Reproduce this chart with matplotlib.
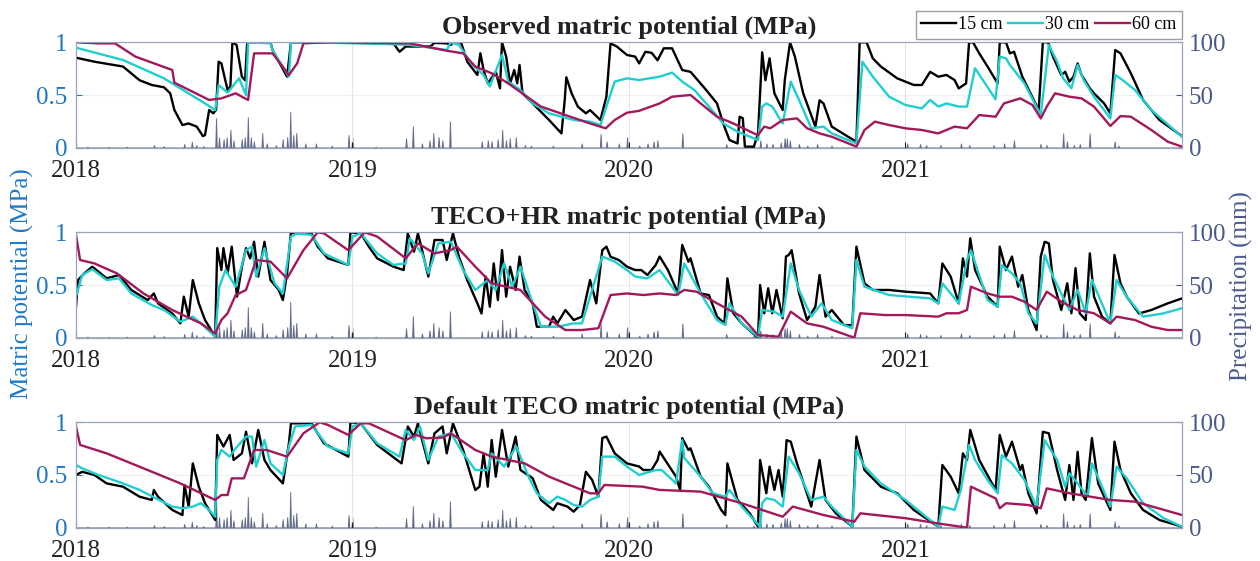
import numpy as np
import matplotlib.pyplot as plt

plt.rcParams['font.family'] = ['Liberation Serif', 'DejaVu Serif']

# time axis: months since Jan 2018
year_ticks = [0, 12, 24, 36]
year_labels = ['2018', '2019', '2020', '2021']

titles = ['Observed matric potential (MPa)',
          'TECO+HR matric potential (MPa)',
          'Default TECO matric potential (MPa)']
depths = ['15 cm', '30 cm', '60 cm']
colors = ['#000000', '#1fcfcf', '#a2195b']

# observed
obs_15 = [(0, 0.854), (0.8, 0.816), (2.04, 0.77), (2.76, 0.64), (3.29, 0.595), (3.82, 0.573), (4.09, 0.516),
          (4.27, 0.358), (4.62, 0.215), (4.89, 0.23), (5.24, 0.2), (5.51, 0.11), (5.6, 0.12), (5.78, 0.358),
          (5.96, 0.326), (6.08, 0.36), (6.19, 0.816), (6.31, 0.80), (6.58, 0.547), (6.7, 0.58), (6.79, 1.0),
          (6.97, 0.975), (7.2, 0.674), (7.34, 0.64), (7.43, 1.0), (8.44, 1.0), (8.53, 0.927), (9.16, 0.674),
          (9.33, 1.0), (13.78, 0.99), (14.04, 0.91), (14.31, 0.96), (15.38, 0.96), (15.56, 0.995), (16.09, 0.99),
          (16.27, 0.975), (16.36, 1.0), (16.71, 1.0), (16.98, 0.816), (17.42, 0.69), (17.55, 0.896), (17.69, 0.737),
          (17.87, 0.61), (18.22, 0.72), (18.4, 0.563), (18.49, 1.0), (18.67, 0.864), (18.84, 0.61), (19.02, 0.737),
          (19.15, 0.61), (19.25, 0.785), (19.38, 0.516), (19.82, 0.42), (20.53, 0.263), (21.07, 0.136), (21.21, 0.45),
          (21.28, 0.668), (21.51, 0.516), (21.78, 0.39), (22.13, 0.326), (22.31, 0.357), (22.76, 0.263),
          (23.02, 0.484), (23.2, 0.99), (23.47, 0.96), (23.91, 0.88), (24.27, 0.864), (24.44, 0.80), (24.71, 0.91),
          (24.98, 0.90), (25.24, 0.83), (25.51, 0.943), (25.87, 0.943), (26.31, 0.737), (26.67, 0.72),
          (27.29, 0.563), (27.82, 0.42), (28.09, 0.23), (28.36, 0.073), (28.71, 0.04), (28.8, 0.294), (28.94, 0.28),
          (29.03, 0.01), (29.42, 0.01), (29.6, 0.136), (29.78, 0.905), (29.92, 0.64), (30.1, 0.848), (30.31, 0.516),
          (30.67, 0.357), (30.76, 0.64), (30.99, 1.0), (31.2, 0.864), (31.56, 0.516), (32.09, 0.2), (32.27, 0.45),
          (32.44, 0.42), (32.8, 0.2), (33.51, 0.104), (33.87, 0.057), (34.01, 1.0), (34.31, 1.0), (34.58, 0.848),
          (34.93, 0.77), (35.64, 0.658), (36.0, 0.627), (36.36, 0.595), (36.71, 0.595), (37.07, 0.72),
          (37.42, 0.674), (37.78, 0.69), (38.13, 0.642), (38.31, 0.563), (38.63, 0.61), (38.76, 1.0), (38.93, 1.0),
          (39.2, 0.895), (39.56, 0.77), (40.0, 0.61), (40.09, 1.0), (40.36, 1.0), (40.53, 0.895), (40.71, 0.91),
          (41.07, 0.674), (41.78, 0.357), (41.96, 1.0), (42.19, 1.0), (42.4, 0.864), (42.76, 0.69), (42.93, 0.72),
          (43.11, 0.627), (43.29, 0.674), (43.47, 0.80), (43.64, 0.69), (44.0, 0.563), (44.18, 0.516),
          (44.62, 0.42), (44.89, 0.326), (45.1, 0.927), (45.33, 0.895), (45.78, 0.706), (46.31, 0.453),
          (47.02, 0.263), (48.0, 0.11)]
obs_30 = [(0, 0.949), (2.04, 0.832), (3.82, 0.658), (5.6, 0.42), (6.04, 0.357), (6.19, 0.595), (6.58, 0.522),
          (7.08, 0.658), (7.38, 0.5), (7.47, 1.0), (8.44, 0.99), (8.53, 0.927), (9.24, 0.674), (9.33, 1.0),
          (12.71, 0.99), (14.49, 0.975), (16.09, 0.927), (16.27, 1.0), (16.62, 0.975), (17.16, 0.80), (17.69, 0.69),
          (17.96, 0.58), (18.49, 0.88), (18.76, 0.627), (19.29, 0.547), (19.82, 0.42), (20.53, 0.326),
          (21.6, 0.263), (22.31, 0.247), (22.76, 0.215), (23.11, 0.45), (23.38, 0.627), (23.91, 0.658),
          (24.44, 0.642), (25.33, 0.674), (25.87, 0.712), (26.31, 0.627), (26.84, 0.547), (27.47, 0.39),
          (28.09, 0.23), (28.71, 0.152), (29.6, 0.073), (29.78, 0.39), (29.96, 0.42), (30.22, 0.39), (30.67, 0.23),
          (31.02, 0.627), (31.38, 0.453), (31.91, 0.184), (32.44, 0.20), (32.8, 0.136), (33.87, 0.04),
          (34.13, 0.816), (34.58, 0.674), (35.29, 0.484), (36.0, 0.405), (36.71, 0.373), (37.07, 0.453),
          (37.42, 0.39), (37.78, 0.42), (38.31, 0.39), (38.67, 0.39), (39.02, 0.753), (39.91, 0.459),
          (40.09, 0.864), (40.36, 0.848), (40.53, 0.785), (41.16, 0.61), (41.87, 0.31), (42.22, 0.975),
          (42.58, 0.816), (42.84, 0.658), (43.2, 0.563), (43.47, 0.785), (43.73, 0.642), (44.18, 0.484),
          (44.89, 0.278), (45.1, 0.69), (45.42, 0.642), (45.96, 0.547), (46.67, 0.357), (48.0, 0.104)]
obs_60 = [(0, 1.0), (0.98, 0.99), (1.69, 0.99), (2.58, 0.864), (4.18, 0.737), (4.27, 0.617), (5.78, 0.453),
          (6.31, 0.468), (6.93, 0.516), (7.2, 0.484), (7.47, 0.453), (7.73, 0.895), (8.53, 0.895), (9.24, 0.69),
          (9.6, 0.80), (9.87, 0.99), (10.93, 1.0), (14.49, 0.99), (16.09, 0.92), (16.8, 0.895), (17.33, 0.77),
          (18.04, 0.706), (18.76, 0.61), (19.47, 0.5), (20.18, 0.39), (21.24, 0.31), (22.31, 0.23), (22.99, 0.184),
          (23.38, 0.263), (23.91, 0.332), (24.44, 0.35), (25.33, 0.42), (25.87, 0.484), (26.67, 0.5), (27.11, 0.42),
          (27.82, 0.294), (28.53, 0.23), (29.42, 0.136), (29.6, 0.12), (29.87, 0.2), (30.13, 0.184), (30.67, 0.263),
          (31.29, 0.278), (31.73, 0.184), (32.27, 0.136), (32.8, 0.104), (33.87, 0.01), (34.22, 0.168),
          (34.67, 0.247), (35.29, 0.215), (36.0, 0.184), (36.71, 0.168), (37.42, 0.136), (38.13, 0.2),
          (38.67, 0.184), (39.2, 0.31), (39.91, 0.294), (40.27, 0.42), (40.98, 0.468), (41.51, 0.405),
          (41.87, 0.278), (42.13, 0.39), (42.49, 0.516), (43.11, 0.484), (43.64, 0.468), (44.18, 0.39),
          (44.89, 0.206), (45.33, 0.30), (45.78, 0.294), (46.67, 0.168), (47.38, 0.057), (48.0, 0.01)]

# TECO+HR
hr_15 = [(0, 0.294), (0.09, 0.547), (0.36, 0.61), (0.71, 0.674), (1.33, 0.563), (1.87, 0.595), (2.4, 0.453),
         (3.11, 0.357), (3.38, 0.42), (3.56, 0.326), (4.18, 0.23), (4.53, 0.136), (4.68, 0.39), (4.89, 0.2),
         (5.07, 0.547), (5.33, 0.326), (5.6, 0.168), (6.04, 0.01), (6.13, 0.85), (6.31, 0.642), (6.4, 0.85),
         (6.58, 0.61), (6.76, 0.864), (6.99, 0.39), (7.2, 0.674), (7.38, 0.85), (7.56, 0.753), (7.73, 0.91),
         (7.91, 0.58), (8.18, 0.91), (8.44, 0.547), (8.8, 0.453), (8.98, 0.357), (9.16, 0.61), (9.33, 1.0),
         (9.51, 0.99), (10.22, 0.99), (10.49, 0.864), (10.93, 0.753), (11.82, 0.69), (11.91, 1.0), (12.36, 0.99),
         (12.71, 0.864), (13.07, 0.753), (13.78, 0.674), (14.22, 0.642), (14.4, 0.99), (14.67, 0.816),
         (14.84, 0.99), (15.02, 0.832), (15.29, 0.58), (15.56, 0.927), (15.91, 0.927), (16.09, 0.737),
         (16.36, 0.99), (16.62, 0.768), (16.98, 0.547), (17.42, 0.326), (17.6, 0.23), (17.78, 0.58),
         (17.96, 0.294), (18.13, 0.705), (18.31, 0.357), (18.49, 0.832), (18.67, 0.39), (18.84, 0.674),
         (19.08, 0.453), (19.25, 0.77), (19.47, 0.453), (19.82, 0.326), (20.0, 0.104), (20.53, 0.104),
         (20.71, 0.2), (20.89, 0.136), (21.24, 0.263), (21.6, 0.168), (21.96, 0.2), (22.31, 0.547), (22.58, 0.326),
         (22.84, 0.83), (23.02, 0.864), (23.2, 0.768), (23.56, 0.737), (23.91, 0.674), (24.27, 0.642),
         (24.53, 0.642), (24.8, 0.595), (25.16, 0.69), (25.33, 0.77), (25.69, 0.642), (26.13, 0.42), (26.31, 0.88),
         (26.58, 0.722), (26.67, 0.753), (27.11, 0.42), (27.47, 0.405), (27.82, 0.2), (28.14, 0.136),
         (28.27, 0.563), (28.53, 0.232), (28.89, 0.136), (29.6, 0.0), (29.69, 0.5), (29.87, 0.232), (30.04, 0.469),
         (30.22, 0.232), (30.4, 0.453), (30.67, 0.184), (30.81, 0.77), (30.93, 0.785), (31.06, 0.83),
         (31.38, 0.42), (31.73, 0.168), (32.09, 0.294), (32.27, 0.595), (32.53, 0.2), (32.8, 0.263), (33.33, 0.12),
         (33.69, 0.12), (33.87, 0.864), (34.22, 0.516), (34.58, 0.453), (35.29, 0.453), (36.0, 0.437),
         (37.07, 0.42), (37.42, 0.326), (37.6, 0.705), (37.96, 0.58), (38.31, 0.326), (38.49, 0.753),
         (38.67, 0.58), (38.81, 0.943), (39.02, 0.642), (39.56, 0.39), (40.0, 0.294), (40.09, 0.864),
         (40.36, 0.642), (40.62, 0.77), (40.89, 0.484), (41.07, 0.595), (41.33, 0.263), (41.69, 0.073),
         (41.87, 0.77), (42.04, 0.91), (42.22, 0.895), (42.4, 0.547), (42.76, 0.263), (43.02, 0.516),
         (43.2, 0.232), (43.38, 0.66), (43.56, 0.232), (43.82, 0.168), (44.0, 0.8), (44.18, 0.39), (44.53, 0.2),
         (44.89, 0.136), (45.07, 0.785), (45.33, 0.516), (45.6, 0.39), (46.13, 0.23), (46.67, 0.263),
         (47.38, 0.326), (48.0, 0.373)]
hr_30 = [(0, 0.39), (0.27, 0.595), (0.71, 0.65), (1.33, 0.547), (1.87, 0.563), (2.4, 0.42), (3.29, 0.31),
         (3.82, 0.263), (4.53, 0.152), (5.07, 0.2), (5.42, 0.136), (6.04, 0.01), (6.22, 0.484), (6.49, 0.642),
         (6.93, 0.484), (7.38, 0.83), (7.64, 0.864), (7.82, 0.58), (8.18, 0.848), (8.62, 0.516), (8.98, 0.42),
         (9.33, 0.96), (9.6, 0.99), (10.22, 0.975), (10.76, 0.80), (11.82, 0.69), (12.0, 0.96), (12.36, 0.99),
         (13.07, 0.80), (13.78, 0.69), (14.31, 0.705), (14.49, 0.943), (15.02, 0.80), (15.29, 0.61),
         (15.73, 0.895), (16.27, 0.91), (16.8, 0.642), (17.33, 0.453), (17.87, 0.547), (18.22, 0.453),
         (18.58, 0.705), (18.93, 0.484), (19.29, 0.674), (19.82, 0.326), (20.18, 0.104), (20.89, 0.104),
         (21.6, 0.136), (21.96, 0.136), (22.31, 0.39), (22.84, 0.77), (23.38, 0.722), (23.91, 0.642),
         (24.27, 0.58), (24.8, 0.563), (25.33, 0.642), (26.13, 0.405), (26.4, 0.705), (27.11, 0.42),
         (27.82, 0.168), (28.18, 0.12), (28.36, 0.326), (28.89, 0.136), (29.6, 0.01), (29.78, 0.263),
         (30.31, 0.247), (30.67, 0.2), (31.02, 0.705), (31.38, 0.453), (31.91, 0.2), (32.36, 0.326), (32.8, 0.168),
         (33.69, 0.09), (33.87, 0.737), (34.22, 0.484), (35.29, 0.405), (37.07, 0.373), (37.42, 0.326),
         (37.6, 0.516), (38.31, 0.326), (38.67, 0.737), (38.84, 0.83), (39.56, 0.357), (40.0, 0.294),
         (40.18, 0.687), (40.62, 0.61), (40.98, 0.516), (41.33, 0.232), (41.69, 0.136), (42.04, 0.785),
         (42.4, 0.58), (43.11, 0.263), (43.47, 0.453), (43.82, 0.232), (44.09, 0.547), (44.89, 0.136),
         (45.16, 0.547), (45.6, 0.389), (46.31, 0.2), (47.2, 0.231), (48.0, 0.28)]
hr_60 = [(0, 0.975), (0.18, 0.737), (0.8, 0.705), (1.78, 0.61), (2.93, 0.42), (4.18, 0.263), (5.42, 0.136),
         (6.04, 0.04), (6.31, 0.168), (6.58, 0.232), (6.93, 0.405), (7.38, 0.453), (7.82, 0.737), (8.44, 0.722),
         (9.16, 0.563), (9.87, 0.83), (10.49, 1.0), (10.76, 0.99), (11.82, 0.83), (12.53, 1.0), (13.07, 0.96),
         (14.31, 0.753), (14.84, 0.895), (15.56, 0.80), (16.27, 0.832), (16.53, 0.864), (17.33, 0.674),
         (18.04, 0.516), (19.29, 0.453), (20.36, 0.2), (21.24, 0.073), (21.96, 0.073), (22.67, 0.09),
         (23.2, 0.405), (23.91, 0.42), (24.62, 0.405), (25.33, 0.42), (26.04, 0.405), (26.4, 0.453),
         (26.93, 0.437), (27.82, 0.326), (28.89, 0.2), (29.6, 0.025), (30.49, 0.01), (31.02, 0.247),
         (31.73, 0.136), (32.44, 0.104), (33.78, 0.0), (34.04, 0.232), (35.11, 0.215), (36.0, 0.215),
         (37.42, 0.2), (37.78, 0.232), (38.31, 0.232), (38.67, 0.263), (38.84, 0.484), (39.56, 0.42),
         (40.09, 0.389), (40.62, 0.389), (41.16, 0.342), (41.69, 0.263), (42.13, 0.437), (42.76, 0.342),
         (43.47, 0.263), (44.18, 0.232), (44.89, 0.136), (45.16, 0.2), (45.96, 0.168), (46.67, 0.104),
         (47.38, 0.073), (48.0, 0.073)]

# default TECO
def_15 = [(0, 0.5), (0.27, 0.53), (0.8, 0.5), (1.33, 0.42), (2.04, 0.389), (2.76, 0.294), (3.29, 0.263),
          (3.38, 0.357), (3.56, 0.294), (4.18, 0.168), (4.62, 0.12), (4.71, 0.405), (4.89, 0.2), (5.07, 0.61),
          (5.33, 0.389), (5.6, 0.232), (6.04, 0.073), (6.13, 0.88), (6.4, 0.77), (6.67, 0.88), (6.84, 0.642),
          (7.2, 0.705), (7.38, 0.91), (7.64, 0.61), (7.91, 0.927), (8.18, 0.642), (8.44, 0.547), (8.98, 0.42),
          (9.24, 0.8), (9.33, 0.99), (10.22, 0.99), (10.76, 0.8), (11.82, 0.674), (11.91, 1.0), (12.36, 0.99),
          (13.07, 0.785), (14.13, 0.61), (14.4, 0.96), (14.67, 0.864), (14.84, 0.99), (15.02, 0.832),
          (15.29, 0.61), (15.56, 0.895), (15.91, 0.96), (16.09, 0.705), (16.36, 0.99), (16.8, 0.737),
          (17.33, 0.357), (17.51, 0.389), (17.69, 0.705), (17.87, 0.389), (18.04, 0.832), (18.22, 0.484),
          (18.49, 0.927), (18.76, 0.58), (19.08, 0.864), (19.29, 0.547), (19.82, 0.469), (20.18, 0.263),
          (20.71, 0.168), (20.89, 0.232), (21.33, 0.2), (21.6, 0.152), (21.87, 0.215), (22.13, 0.53),
          (22.4, 0.453), (22.67, 0.294), (22.84, 0.85), (23.02, 0.864), (23.38, 0.705), (23.91, 0.61),
          (24.44, 0.58), (24.62, 0.547), (24.98, 0.547), (25.24, 0.642), (25.33, 0.722), (26.04, 0.484),
          (26.22, 0.357), (26.31, 0.85), (26.58, 0.737), (26.67, 0.753), (27.11, 0.484), (27.47, 0.389),
          (28.0, 0.168), (28.18, 0.12), (28.27, 0.61), (28.71, 0.263), (29.24, 0.136), (29.6, 0.01),
          (29.69, 0.642), (29.96, 0.326), (30.1, 0.579), (30.31, 0.358), (30.49, 0.547), (30.67, 0.294),
          (30.84, 0.83), (31.02, 0.816), (31.29, 0.61), (31.91, 0.2), (32.27, 0.642), (32.53, 0.263),
          (32.98, 0.136), (33.69, 0.01), (33.87, 0.864), (34.22, 0.547), (34.93, 0.389), (35.64, 0.326),
          (36.36, 0.168), (37.42, 0.01), (37.6, 0.595), (37.96, 0.484), (38.31, 0.326), (38.49, 0.705),
          (38.67, 0.642), (38.81, 0.927), (39.2, 0.642), (39.91, 0.358), (40.09, 0.88), (40.36, 0.674),
          (40.62, 0.816), (40.98, 0.547), (41.07, 0.595), (41.33, 0.326), (41.69, 0.136), (41.96, 0.91),
          (42.22, 0.895), (42.58, 0.547), (42.93, 0.263), (43.11, 0.595), (43.29, 0.263), (43.47, 0.72),
          (43.64, 0.326), (43.82, 0.263), (44.09, 0.85), (44.36, 0.42), (44.89, 0.168), (45.07, 0.816),
          (45.33, 0.547), (45.78, 0.326), (46.31, 0.168), (47.02, 0.073), (48.0, 0.01)]
def_30 = [(0, 0.595), (0.27, 0.563), (0.98, 0.5), (2.04, 0.42), (2.76, 0.358), (3.47, 0.278), (4.18, 0.2),
          (4.62, 0.184), (5.07, 0.2), (5.42, 0.232), (5.78, 0.168), (6.04, 0.104), (6.13, 0.642), (6.31, 0.737),
          (6.67, 0.674), (6.93, 0.753), (7.38, 0.864), (7.64, 0.864), (7.82, 0.58), (8.18, 0.832), (8.44, 0.61),
          (8.98, 0.5), (9.24, 0.77), (9.51, 0.96), (10.22, 0.975), (10.93, 0.77), (11.82, 0.705), (12.0, 0.96),
          (12.36, 0.99), (13.07, 0.80), (14.04, 0.674), (14.31, 0.927), (14.67, 0.832), (14.93, 0.96),
          (15.29, 0.642), (15.73, 0.864), (16.27, 0.895), (16.8, 0.705), (17.33, 0.547), (17.87, 0.547),
          (18.04, 0.705), (18.58, 0.58), (19.11, 0.77), (19.64, 0.484), (20.0, 0.326), (20.53, 0.232),
          (20.89, 0.294), (21.24, 0.263), (21.6, 0.215), (21.96, 0.2), (22.31, 0.263), (22.67, 0.294),
          (22.84, 0.674), (23.38, 0.674), (23.91, 0.58), (24.44, 0.50), (25.16, 0.547), (25.42, 0.547),
          (26.04, 0.42), (26.31, 0.83), (26.4, 0.66), (27.11, 0.484), (27.64, 0.326), (28.18, 0.294),
          (28.36, 0.358), (28.89, 0.2), (29.69, 0.01), (29.78, 0.232), (29.96, 0.28), (30.31, 0.263),
          (30.67, 0.2), (30.93, 0.674), (31.38, 0.516), (31.91, 0.263), (32.44, 0.294), (32.8, 0.2),
          (33.69, 0.01), (33.87, 0.737), (34.22, 0.58), (34.93, 0.42), (36.0, 0.263), (37.42, 0.01), (37.6, 0.2),
          (38.13, 0.168), (38.4, 0.358), (38.76, 0.785), (39.02, 0.642), (39.56, 0.453), (40.0, 0.326),
          (40.18, 0.687), (40.62, 0.61), (41.16, 0.453), (41.69, 0.2), (42.04, 0.83), (42.58, 0.642),
          (42.93, 0.389), (43.11, 0.516), (43.47, 0.42), (43.91, 0.294), (44.09, 0.61), (44.53, 0.389),
          (44.89, 0.2), (45.16, 0.579), (45.6, 0.468), (46.31, 0.232), (47.2, 0.09), (48.0, 0.01)]
def_60 = [(0, 0.96), (0.18, 0.785), (1.33, 0.705), (2.93, 0.563), (4.53, 0.42), (6.04, 0.263), (6.31, 0.31),
          (6.58, 0.31), (6.76, 0.468), (7.29, 0.468), (7.73, 0.737), (8.27, 0.737), (9.16, 0.674), (9.87, 0.895),
          (10.58, 1.0), (10.93, 0.975), (11.82, 0.88), (12.36, 0.99), (12.71, 0.99), (14.31, 0.83), (14.76, 0.88),
          (15.2, 0.848), (15.91, 0.855), (16.27, 0.895), (17.33, 0.737), (18.04, 0.674), (19.47, 0.61),
          (20.53, 0.484), (21.6, 0.389), (22.31, 0.326), (22.67, 0.326), (22.93, 0.405), (24.59, 0.389),
          (25.33, 0.358), (27.11, 0.342), (28.89, 0.232), (30.67, 0.104), (31.11, 0.2), (32.44, 0.12),
          (33.78, 0.057), (34.04, 0.136), (36.0, 0.09), (37.42, 0.04), (38.67, 0.0), (38.84, 0.389),
          (39.91, 0.278), (40.09, 0.184), (40.36, 0.232), (41.33, 0.215), (41.87, 0.184), (42.13, 0.373),
          (43.11, 0.327), (44.89, 0.263), (45.96, 0.247), (48.0, 0.12)]

# daily rain events (month, mm)
rain = [(0.5, 1.0), (1.4, 0.8), (2.2, 1.0), (3.38, 2.5), (3.82, 1.5), (4.71, 3.5), (5.03, 5.7), (5.21, 2.5),
        (5.51, 1.5), (6.08, 28), (6.22, 10), (6.4, 8), (6.54, 10), (6.7, 17), (6.84, 7), (7.2, 8), (7.32, 10),
        (7.47, 29), (7.59, 10), (7.73, 6), (8.09, 14), (8.27, 4), (8.66, 2.5), (8.98, 8), (9.16, 10), (9.3, 34),
        (9.42, 12), (9.55, 14), (9.96, 4), (10.4, 4), (11.11, 2), (11.82, 12), (12.0, 10), (13.0, 1.0),
        (14.31, 9), (14.63, 20.5), (15.02, 4), (15.34, 7), (15.52, 14), (15.73, 10), (15.91, 7), (16.23, 25),
        (17.6, 6), (17.87, 7), (18.04, 6), (18.31, 8), (18.49, 17), (18.67, 7), (18.84, 9), (19.08, 10),
        (19.47, 2.5), (19.73, 2), (20.71, 2), (21.96, 4), (22.76, 13), (23.02, 6), (23.56, 4), (23.91, 10),
        (24.44, 2), (24.8, 4), (25.07, 6), (25.24, 7), (26.31, 13.6), (28.21, 3.5), (29.42, 2), (29.69, 7),
        (29.96, 4), (30.22, 3.5), (30.58, 5), (30.76, 9), (30.84, 9), (30.99, 7), (31.38, 3.5), (31.73, 2),
        (32.18, 3.5), (32.8, 2), (36.09, 4), (36.62, 3.5), (36.89, 2.5), (37.51, 2.5), (38.4, 4), (38.76, 2.5),
        (39.82, 2.5), (40.27, 4), (40.71, 7), (41.87, 3.5), (42.13, 2.5), (42.84, 13.6), (43.02, 6),
        (43.29, 2.5), (43.56, 3.5), (44.0, 13.6), (45.07, 6), (45.24, 2)]

panels = [[obs_15, obs_30, obs_60], [hr_15, hr_30, hr_60], [def_15, def_30, def_60]]

left_col = '#1f78c8'
right_col = '#4a5a8c'
rain_col = '#5d6784'
edge_col = '#9aa3bb'

days = np.arange(0, 1462)
rain_daily = np.zeros(len(days))
for m, mm in rain:
    rain_daily[int(round(m * 365.25 / 12))] = mm
rain_t = days * 12 / 365.25

fig = plt.figure(figsize=(12.6, 5.61), dpi=100)
bottoms = [0.7367, 0.398, 0.0594]
for i in range(3):
    ax = fig.add_axes([0.0603, bottoms[i], 0.8778, 0.1879])
    ax2 = ax.twinx()
    ax.set_zorder(ax2.get_zorder() + 1)
    ax.patch.set_visible(False)

    ax2.fill_between(rain_t, 0, rain_daily, color=rain_col, lw=0.7, alpha=0.9)
    ax2.set_ylim(0, 100)
    ax2.set_yticks([0, 50, 100])
    ax2.tick_params(axis='y', colors=right_col, labelsize=18, direction='in', length=4, pad=5)
    ax2.grid(axis='y', color='#eef0f6', lw=0.8)

    for series, c, lab in zip(panels[i], colors, depths):
        t, v = zip(*series)
        ax.plot(t, v, color=c, lw=1.7, label=lab)
    ax.set_xlim(0, 48)
    ax.set_ylim(0, 1)
    ax.set_yticks([0, 0.5, 1])
    ax.set_yticklabels(['0', '0.5', '1'])
    ax.set_xticks(year_ticks)
    ax.set_xticklabels(year_labels)
    ax.tick_params(axis='y', colors=left_col, labelsize=18, direction='in', length=4, pad=6)
    ax.tick_params(axis='x', labelsize=18, direction='in', length=4, colors='#222222', pad=9)
    ax.grid(axis='x', color='#e4e4e4', lw=0.8)
    for a in (ax, ax2):
        for s in a.spines.values():
            s.set_color(edge_col)
            s.set_linewidth(0.8)
    ax.set_title(titles[i], fontsize=19, fontweight='bold', color='#222222', pad=6)
    if i == 0:
        fig.legend(loc='upper right', bbox_to_anchor=(1182 / 1260, 1 - 11 / 561), ncol=3, fontsize=13,
                   handlelength=1.9, handletextpad=0.15, columnspacing=0.3, frameon=True, fancybox=False,
                   edgecolor='#888888', borderpad=0.3, borderaxespad=0)

fig.text(0.018, 0.494, 'Matric potential (MPa)', rotation=90, ha='center', va='center',
         fontsize=18, color=left_col)
fig.text(0.985, 0.49, 'Precipitation (mm)', rotation=90, ha='center', va='center',
         fontsize=18, color=right_col)

fig.savefig('out.png', dpi=100)
